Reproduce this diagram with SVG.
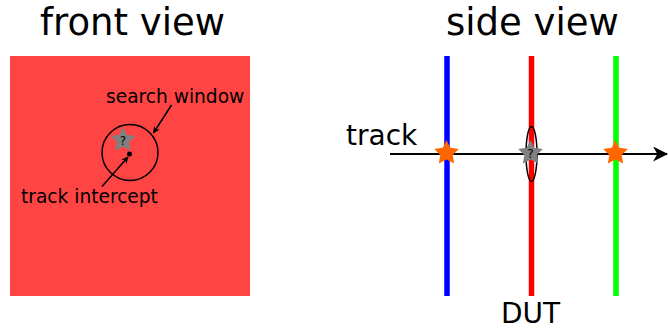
<svg xmlns="http://www.w3.org/2000/svg" width="668" height="331" viewBox="0 0 668 331">
  <style>
    text { font-family: "DejaVu Sans", sans-serif; fill: #000; }
    .title { font-size: 37px; }
    .label { font-size: 18.6px; }
    .big { font-size: 28px; }
    .q { font-size: 12px; text-anchor: middle; }
    .plane { stroke-width: 5.5; fill: none; }
    .conn { stroke: #000; stroke-width: 1.5; fill: none; }
  </style>
  <defs>
    <path id="star" d="M0,-13 L3.82,-5.26 L12.36,-4.02 L6.18,2.01 L7.64,10.52 L0,6.5 L-7.64,10.52 L-6.18,2.01 L-12.36,-4.02 L-3.82,-5.26 Z"/>
    <marker id="head" viewBox="0 0 10 10" refX="9" refY="5" markerWidth="7" markerHeight="7" orient="auto" markerUnits="userSpaceOnUse">
      <path d="M0,0 L10,5 L0,10 L3,5 Z" fill="#000"/>
    </marker>
    <marker id="bighead" viewBox="0 0 14 14" refX="13" refY="7" markerWidth="15" markerHeight="15" orient="auto" markerUnits="userSpaceOnUse">
      <path d="M0,0 L14,7 L0,14 L4,7 Z" fill="#000"/>
    </marker>
  </defs>

  <!-- front view -->
  <g id="front-view">
    <text class="title" x="40" y="35">front view</text>
    <rect x="10" y="56" width="240" height="240" fill="#ff4444"/>
    <circle cx="130" cy="152.5" r="28" fill="none" stroke="#000" stroke-width="1.5"/>
    <use href="#star" x="123" y="140" fill="#808080"/>
    <text class="q" x="123" y="145">?</text>
    <circle cx="129.5" cy="154" r="2.5" fill="#000"/>
    <text class="label" x="106" y="103">search window</text>
    <text class="label" x="21" y="203">track intercept</text>
  </g>

  <!-- side view -->
  <g id="side-view">
    <text class="title" x="446" y="35">side view</text>
    <line class="plane" x1="447" y1="56" x2="447" y2="296" stroke="#0000ff"/>
    <line class="plane" x1="531.5" y1="56" x2="531.5" y2="296" stroke="#ff0000"/>
    <line class="plane" x1="616" y1="56" x2="616" y2="296" stroke="#00ff00"/>
    <text class="big" x="346" y="145">track</text>
    <text class="big" x="501" y="323">DUT</text>
  </g>

  <!-- connectors -->
  <g id="connectors">
    <line class="conn" x1="171.5" y1="105" x2="153.5" y2="133"  marker-end="url(#head)"/>
    <line class="conn" x1="102" y1="186.5" x2="128" y2="157" marker-end="url(#head)"/>
    <line x1="390" y1="154" x2="667" y2="154" stroke="#000" stroke-width="2.2" marker-end="url(#bighead)"/>
  </g>

  <!-- hits on the track -->
  <g id="hits">
    <ellipse cx="531.5" cy="154" rx="5.5" ry="27.5" fill="none" stroke="#000" stroke-width="1.5"/>
    <use href="#star" x="446.5" y="153" fill="#ff6600"/>
    <use href="#star" x="615.5" y="153" fill="#ff6600"/>
    <use href="#star" x="530.5" y="153" fill="#808080"/>
    <text class="q" x="530.5" y="158">?</text>
  </g>
</svg>
